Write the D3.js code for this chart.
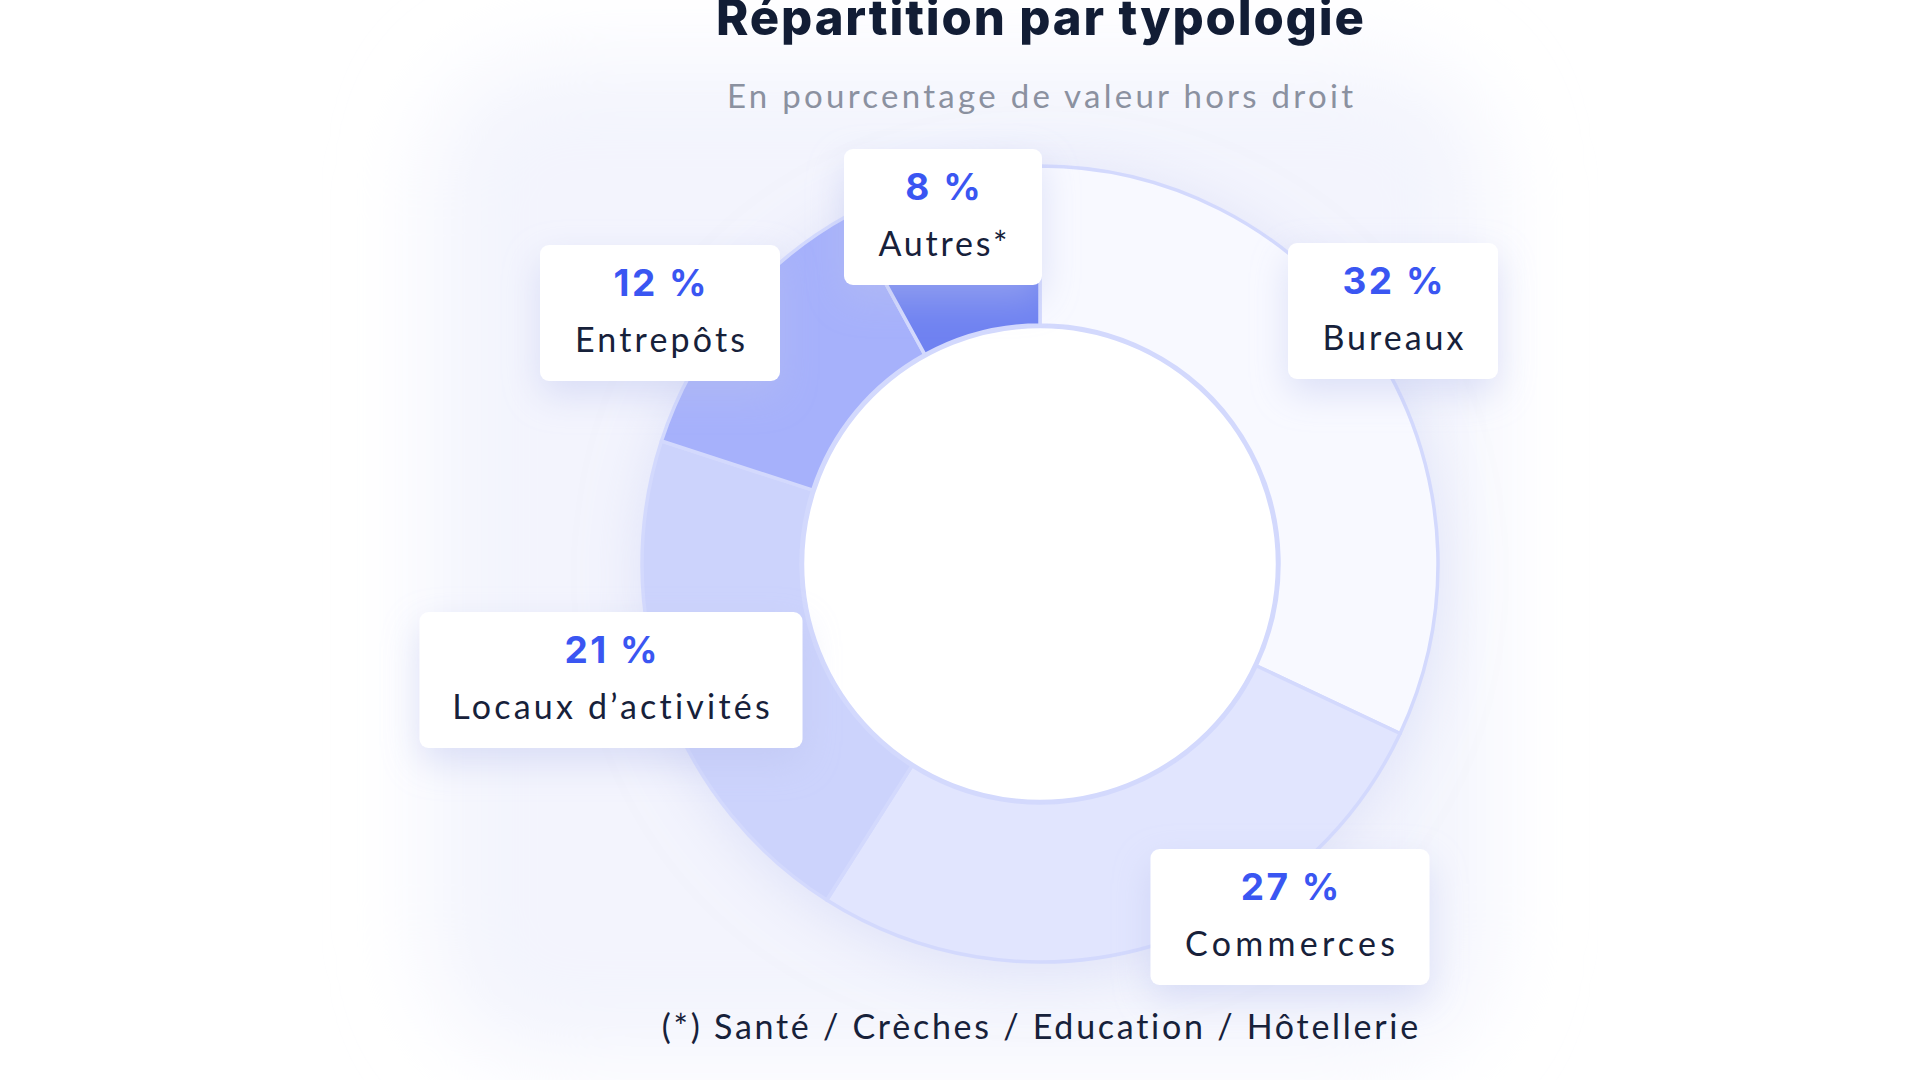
<!DOCTYPE html>
<html>
<head>
<meta charset="utf-8">
<script src="https://cdn.jsdelivr.net/npm/d3@7"></script>
<style>
  html, body { margin: 0; padding: 0; background: #ffffff; }
  svg { display: block; }
</style>
</head>
<body>
<svg id="chart" width="1920" height="1080"></svg>
<script>
// ---- Data ----
const categories = ["Bureaux", "Commerces", "Locaux d’activités", "Entrepôts", "Autres*"];
const values = [32, 27, 21, 12, 8];
const titleText = "Répartition par typologie";
const subtitleText = "En pourcentage de valeur hors droit";
const footnoteText = "(*) Santé / Crèches / Education / Hôtellerie";

// ---- Layout / style (not data) ----
const W = 1920, H = 1080;
const cx = 1040, cy = 564;
const outerR = 398, innerR = 239;
const sliceColors = ["#f8f9ff", "#e1e5fe", "#ccd3fc", "#a6b1fb", "#6f82f1"];
const strokeColor = "#d3d9fd";
// label boxes: [centerX, top, width, labelTextWidth]
const boxLayout = [
  [1393, 243, 210, 141],
  [1290, 849, 279, 210],
  [611, 612, 383, 318],
  [660, 245, 240, 170],
  [943, 149, 198, 129]
];
const boxH = 136;

const svg = d3.select("#chart");
const defs = svg.append("defs");

// stretch a text to a target width via letter-spacing (font is narrower than the original)
function fitWidth(sel, target) {
  const node = sel.node();
  const natural = node.getComputedTextLength();
  const n = node.textContent.length;
  const ls = (target - natural) / Math.max(1, n - 1);
  sel.attr("letter-spacing", ls.toFixed(2));
  // compensate trailing spacing on centered text
  sel.attr("dx", (ls / 2).toFixed(2));
  return sel;
}

const bgBlur = defs.append("filter").attr("id", "bgBlur")
  .attr("x", "-30%").attr("y", "-30%").attr("width", "160%").attr("height", "160%");
bgBlur.append("feGaussianBlur").attr("stdDeviation", 45);

const shadow = defs.append("filter").attr("id", "boxShadow")
  .attr("x", "-40%").attr("y", "-40%").attr("width", "180%").attr("height", "200%");
shadow.append("feDropShadow").attr("dx", 0).attr("dy", 14).attr("stdDeviation", 18)
  .attr("flood-color", "#b9c1ee").attr("flood-opacity", 0.45);

const donutShadow = defs.append("filter").attr("id", "donutShadow")
  .attr("x", "-40%").attr("y", "-40%").attr("width", "180%").attr("height", "180%");
donutShadow.append("feDropShadow").attr("dx", 0).attr("dy", 10).attr("stdDeviation", 30)
  .attr("flood-color", "#c7cdf3").attr("flood-opacity", 0.5);

// soft background tint
svg.append("rect")
  .attr("x", 430).attr("y", 60).attr("width", 1060).attr("height", 1000)
  .attr("rx", 120)
  .attr("fill", "#f3f4fd")
  .attr("filter", "url(#bgBlur)");

// ---- Titles ----
const title = svg.append("text")
  .attr("x", cx).attr("y", 35)
  .attr("text-anchor", "middle")
  .attr("font-family", "Inter, Lato, sans-serif")
  .attr("font-weight", 800)
  .attr("font-size", 49)
  .attr("fill", "#121d35")
  .text(titleText);
fitWidth(title, 648);

const subtitle = svg.append("text")
  .attr("x", cx).attr("y", 108)
  .attr("text-anchor", "middle")
  .attr("font-family", "Lato, Inter, sans-serif")
  .attr("font-size", 33)
  .attr("fill", "#8b91a0")
  .text(subtitleText);
fitWidth(subtitle, 626);

// ---- Donut ----
const pie = d3.pie().sort(null).value(d => d).startAngle(0).endAngle(2 * Math.PI);
const arcs = pie(values);
const arc = d3.arc().innerRadius(innerR).outerRadius(outerR);

const g = svg.append("g").attr("transform", `translate(${cx},${cy})`);

g.append("circle").attr("r", outerR).attr("fill", "#f8f9ff").attr("filter", "url(#donutShadow)");

g.selectAll("path.slice")
  .data(arcs)
  .join("path")
  .attr("class", "slice")
  .attr("d", arc)
  .attr("fill", (d, i) => sliceColors[i])
  .attr("stroke", strokeColor)
  .attr("stroke-width", 3.5)
  .attr("stroke-linejoin", "round");

g.append("circle").attr("r", innerR - 1.5).attr("fill", "#ffffff")
  .attr("stroke", strokeColor).attr("stroke-width", 3.5);

// ---- Label boxes ----
const labels = svg.append("g");
values.forEach((v, i) => {
  const [bx, top, bw, tw] = boxLayout[i];
  const lg = labels.append("g");
  lg.append("rect")
    .attr("x", bx - bw / 2).attr("y", top)
    .attr("width", bw).attr("height", boxH)
    .attr("rx", 9)
    .attr("fill", "#ffffff")
    .attr("filter", "url(#boxShadow)");
  lg.append("text")
    .attr("x", bx).attr("y", top + 51)
    .attr("text-anchor", "middle")
    .attr("font-family", "Inter, Lato, sans-serif")
    .attr("font-weight", 700)
    .attr("font-size", 37)
    .attr("letter-spacing", 2.5)
    .attr("dx", 1.25)
    .attr("fill", "#3a56f2")
    .text(`${v} %`);
  const lt = lg.append("text")
    .attr("x", bx).attr("y", top + 107)
    .attr("text-anchor", "middle")
    .attr("font-family", "Lato, Inter, sans-serif")
    .attr("font-size", 34)
    .attr("fill", "#17213a")
    .text(categories[i]);
  fitWidth(lt, tw);
});

// ---- Footnote ----
const foot = svg.append("text")
  .attr("x", cx).attr("y", 1039)
  .attr("text-anchor", "middle")
  .attr("font-family", "Lato, Inter, sans-serif")
  .attr("font-size", 34)
  .attr("fill", "#17213a")
  .text(footnoteText);
fitWidth(foot, 757);
</script>
</body>
</html>
